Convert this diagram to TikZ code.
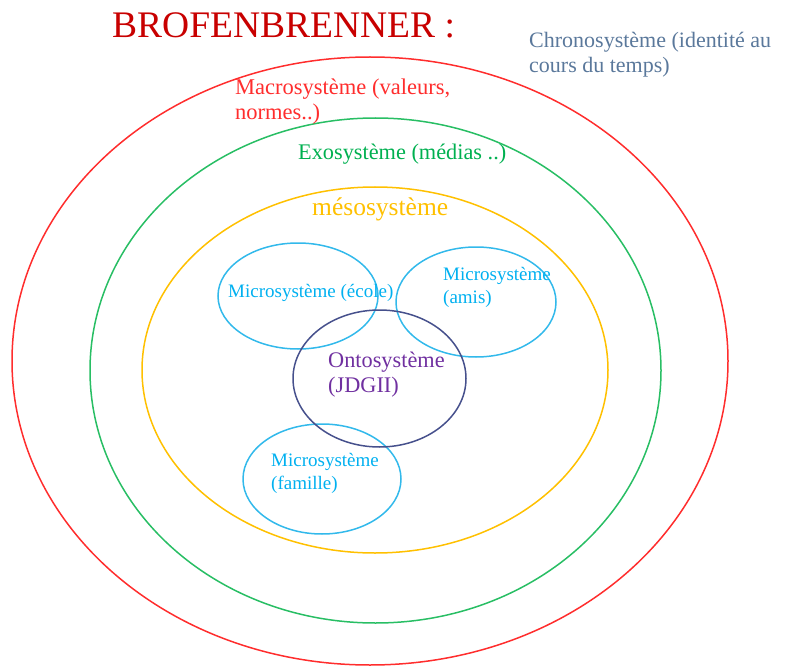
\documentclass[tikz,border=0pt]{standalone}
\usepackage{fontspec}
\setmainfont{Liberation Serif}
\usetikzlibrary{shapes.geometric}

\definecolor{titlered}{RGB}{200,0,0}
\definecolor{macrored}{RGB}{255,45,45}
\definecolor{exogreen}{RGB}{40,190,100}
\definecolor{exotext}{RGB}{0,176,80}
\definecolor{mesoyellow}{RGB}{255,192,0}
\definecolor{microcyan}{RGB}{50,185,235}
\definecolor{microtext}{RGB}{0,176,240}
\definecolor{ontoblue}{RGB}{70,80,140}
\definecolor{ontopurple}{RGB}{112,48,160}
\definecolor{chronogray}{RGB}{90,120,155}

\tikzset{
    ring/.style={draw, ellipse, line width=1.5pt, inner sep=0pt},
    lbl/.style={anchor=base west, align=left, inner sep=0pt},
}

\begin{document}
\begin{tikzpicture}[x=1pt, y=-1pt]
    \useasboundingbox (0,0) rectangle (785,666);

    % systems, outside in
    \node[ring, macrored, minimum width=716pt, minimum height=608pt] (macro) at (370,361) {};
    \node[ring, exogreen, minimum width=571pt, minimum height=505pt] (exo) at (375.5,370.5) {};
    \node[ring, mesoyellow, minimum width=466pt, minimum height=366pt] (meso) at (375,370) {};
    \node[ring, microcyan, minimum width=160pt, minimum height=106pt] (ecole) at (298,296) {};
    \node[ring, microcyan, minimum width=160pt, minimum height=110pt] (amis) at (476,302) {};
    \node[ring, microcyan, minimum width=158pt, minimum height=110pt] (famille) at (322,479) {};
    \node[ring, ontoblue, minimum width=173pt, minimum height=137pt] (onto) at (379.5,378.5) {};

    % labels (multi-line ones sit on their last line)
    \node[lbl, titlered, font=\fontsize{37.5}{42}\selectfont] (title) at (112,38) {BROFENBRENNER :};
    \node[lbl, chronogray, font=\fontsize{22}{25}\selectfont] (chronotext) at (529,73)
        {Chronosystème (identité au\\cours du temps)};
    \node[lbl, macrored, font=\fontsize{22.5}{25}\selectfont] (macrotext) at (235,120)
        {Macrosystème (valeurs,\\normes..)};
    \node[lbl, exotext, font=\fontsize{22.3}{25}\selectfont] (exotext) at (298,160) {Exosystème (médias ..)};
    \node[lbl, mesoyellow, font=\fontsize{25.5}{30}\selectfont] (mesotext) at (312,215) {mésosystème};
    \node[lbl, microtext, font=\fontsize{19}{23}\selectfont] (ecoletext) at (228,297) {Microsystème (école)};
    \node[lbl, microtext, font=\fontsize{19}{23}\selectfont] (amistext) at (443,303)
        {Microsystème\\(amis)};
    \node[lbl, ontopurple, font=\fontsize{22.3}{25}\selectfont] (ontotext) at (328,392)
        {Ontosystème\\(JDGII)};
    \node[lbl, microtext, font=\fontsize{19}{23}\selectfont] (familletext) at (271,489)
        {Microsystème\\(famille)};

\end{tikzpicture}
\end{document}
